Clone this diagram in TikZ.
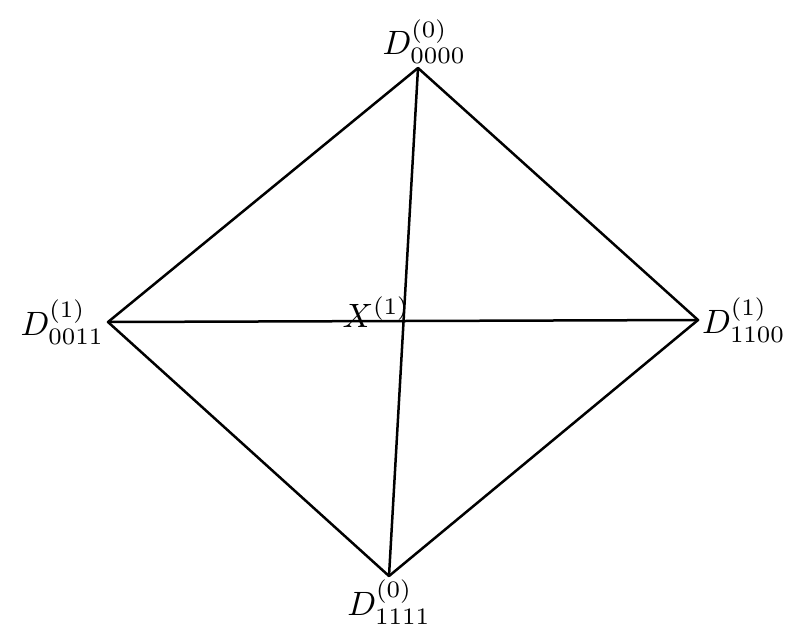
\documentclass[tikz,border=0pt]{standalone}
\usepackage{amsmath,amssymb}
\usepackage{tikz}
\usetikzlibrary{positioning}
\tikzset{
  every picture/.style={line join=round, line cap=round},
  edge/.style={line width=0.8pt},
  lab/.style={inner sep=1pt, font=\normalsize},
}

\begin{document}
\begin{tikzpicture}[x=0.32pt,y=-0.32pt]
\useasboundingbox (0,0) rectangle (796,640);
\coordinate (top) at (418,68);
\coordinate (lft) at (108,322);
\coordinate (rgt) at (698,320);
\coordinate (bot) at (389,576);
\draw[edge] (top)--(rgt)--(bot)--(lft)--cycle;
\draw[edge] (top)--(bot);
\draw[edge] (lft)--(rgt);
\node[lab,above=0pt of top,xshift=2pt,scale=1.08] (ltop) {$D^{(0)}_{0000}$};
\node[lab,left=0pt of lft,scale=1.08] (llft) {$D^{(1)}_{0011}$};
\node[lab,right=0pt of rgt,scale=1.08] (lrgt) {$D^{(1)}_{1100}$};
\node[lab,below=0pt of bot,scale=1.08] (lbot) {$D^{(0)}_{1111}$};
\node[lab,anchor=base,scale=1.08] (xone) at (376,327) {$X^{(1)}$};
\end{tikzpicture}
\end{document}
